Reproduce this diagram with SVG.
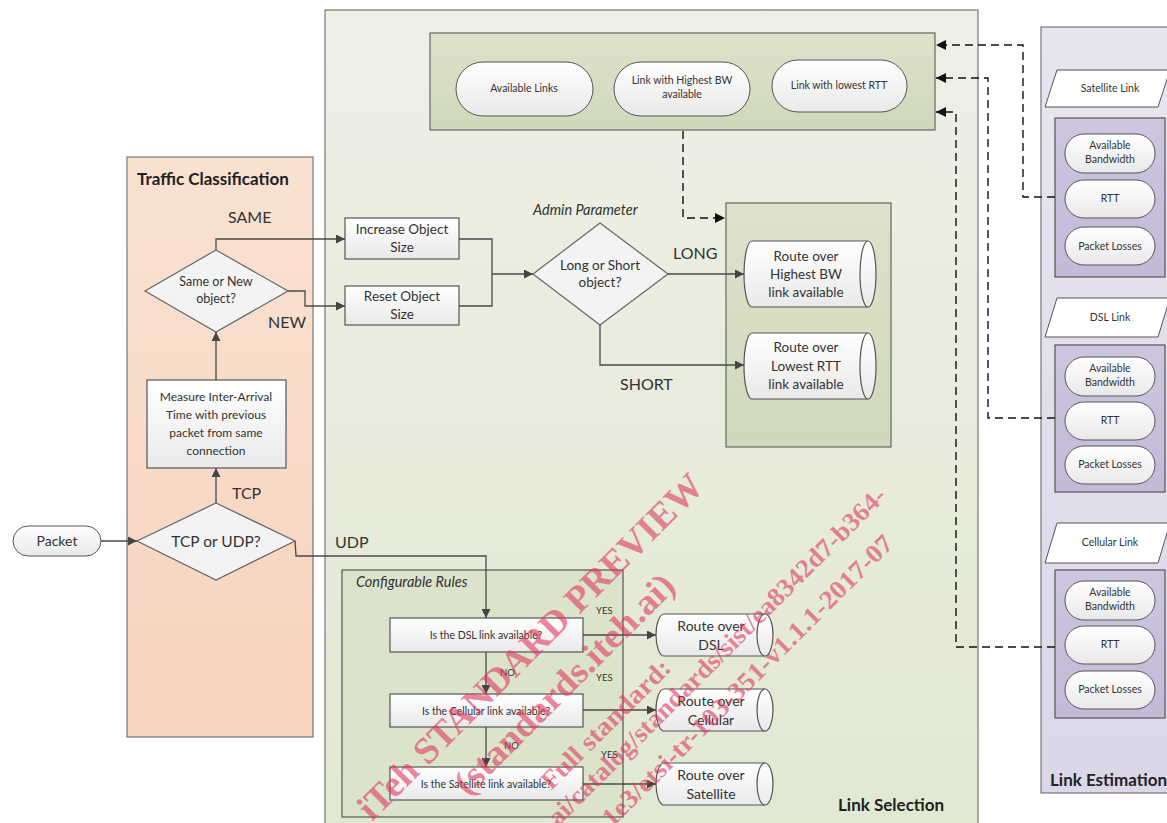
<svg xmlns="http://www.w3.org/2000/svg" width="1167" height="823" viewBox="0 0 1167 823">
<defs>
<linearGradient id="gSel" x1="0" y1="0" x2="0" y2="1"><stop offset="0" stop-color="#eef0e6"/><stop offset="1" stop-color="#e1e8d2"/></linearGradient>
<linearGradient id="gTc" x1="0" y1="0" x2="0" y2="1"><stop offset="0" stop-color="#f9e2d2"/><stop offset="1" stop-color="#f6d3bd"/></linearGradient>
<linearGradient id="gEst" x1="0" y1="0" x2="0" y2="1"><stop offset="0" stop-color="#e8e5f0"/><stop offset="1" stop-color="#dcd7e8"/></linearGradient>
<linearGradient id="gBox" x1="0" y1="0" x2="0" y2="1"><stop offset="0" stop-color="#dde3cb"/><stop offset="1" stop-color="#d0d8bb"/></linearGradient>
<linearGradient id="gGrp" x1="0" y1="0" x2="0" y2="1"><stop offset="0" stop-color="#cdc6de"/><stop offset="1" stop-color="#c2bad7"/></linearGradient>
<linearGradient id="gW" x1="0" y1="0" x2="0" y2="1"><stop offset="0" stop-color="#ffffff"/><stop offset="1" stop-color="#e9e9e9"/></linearGradient>
<marker id="ar" viewBox="0 0 10 10" refX="10" refY="5" markerWidth="9" markerHeight="9" markerUnits="userSpaceOnUse" orient="auto"><path d="M0,0 L10,5 L0,10 Z" fill="#444"/></marker>
<marker id="ak" viewBox="0 0 10 10" refX="10" refY="5" markerWidth="10" markerHeight="10" markerUnits="userSpaceOnUse" orient="auto"><path d="M0,0 L10,5 L0,10 Z" fill="#111"/></marker>
</defs>
<style>
text{font-family:Lato,"Open Sans","Liberation Sans",sans-serif;fill:#333}
.title{font-size:17px;font-weight:bold;fill:#222}
.lbl{font-size:16px;fill:#333}
.n13{font-size:13.5px;text-anchor:middle}
.n10{font-size:10.5px;text-anchor:middle}
.n9{font-size:10.5px;text-anchor:middle}
.it{font-style:italic;font-size:14.5px}
.yes{font-size:9.5px}
.pill{fill:url(#gW);stroke:#555;stroke-width:1}
.box{fill:url(#gW);stroke:#555;stroke-width:1.2}
.dia{fill:#f3f3f3;stroke:#666;stroke-width:1.2}
.cyl{fill:url(#gW);stroke:#555;stroke-width:1.2}
.ln{fill:none;stroke:#4a4a4a;stroke-width:1.3}
.dl{fill:none;stroke:#111;stroke-width:1.4;stroke-dasharray:8 5}
.wm{font-family:"Liberation Serif",serif;font-weight:bold;fill:#e0365e;fill-opacity:0.6}
</style>
<rect width="1167" height="823" fill="#ffffff"/>

<g id="panel-link-selection">
<rect x="325" y="10" width="653" height="825" fill="url(#gSel)" stroke="#777" stroke-width="1.2"/>
<text class="title" x="838" y="811">Link Selection</text>
</g>
<g id="panel-traffic-classification">
<rect x="127" y="157" width="186" height="580" fill="url(#gTc)" stroke="#777" stroke-width="1.2"/>
<text class="title" x="137" y="185">Traffic Classification</text>
</g>
<g id="panel-link-estimation">
<rect x="1041" y="27" width="140" height="766" fill="url(#gEst)" stroke="#777" stroke-width="1.2"/>
<text class="title" x="1050" y="786">Link Estimation</text>
</g>

<g id="top-box">
<rect x="430" y="33" width="505" height="97" fill="url(#gBox)" stroke="#666" stroke-width="1.2"/>
</g>
<g id="available-links"><rect class="pill" x="456" y="62" width="137" height="54" rx="27"/><text class="n10" x="524" y="92">Available Links</text></g>
<g id="highest-bw"><rect class="pill" x="614" y="62" width="136" height="54" rx="27"/><text class="n10" x="682" y="84">Link with Highest BW</text><text class="n10" x="682" y="98">available</text></g>
<g id="lowest-rtt"><rect class="pill" x="772" y="60" width="135" height="52" rx="26"/><text class="n10" x="839" y="89">Link with lowest RTT</text></g>

<g id="route-container"><rect x="726" y="203" width="165" height="244" fill="url(#gBox)" stroke="#666" stroke-width="1.2"/></g>

<g id="route-highest-bw">
<path class="cyl" d="M752,241 L868,241 A8,33 0 0 1 868,307 L752,307 A8,33 0 0 1 752,241 Z"/>
<path class="cyl" d="M868,241 A8,33 0 0 0 868,307"/>
<text class="n13" x="806" y="261">Route over</text><text class="n13" x="806" y="279">Highest BW</text><text class="n13" x="806" y="297">link available</text>
</g>
<g id="route-lowest-rtt">
<path class="cyl" d="M752,333 L868,333 A8,33 0 0 1 868,399 L752,399 A8,33 0 0 1 752,333 Z"/>
<path class="cyl" d="M868,333 A8,33 0 0 0 868,399"/>
<text class="n13" x="806" y="352">Route over</text><text class="n13" x="806" y="371">Lowest  RTT</text><text class="n13" x="806" y="389">link available</text>
</g>

<g id="increase-object"><rect class="box" x="345" y="218" width="114" height="41"/><text class="n13" x="402" y="234">Increase Object</text><text class="n13" x="402" y="252">Size</text></g>
<g id="reset-object"><rect class="box" x="345" y="286" width="114" height="39"/><text class="n13" x="402" y="301">Reset Object</text><text class="n13" x="402" y="319">Size</text></g>

<g id="long-short"><path class="dia" d="M600,223 L668,274 L600,325 L533,274 Z"/><text class="n13" x="600" y="270">Long or Short</text><text class="n13" x="600" y="287">object?</text></g>
<text class="it" x="533" y="215">Admin Parameter</text>

<g id="same-new"><path class="dia" d="M216,250 L288,291 L216,332 L145,291 Z"/><text class="n10" x="216" y="286" style="font-size:12.5px">Same or New</text><text class="n10" x="216" y="303" style="font-size:12.5px">object?</text></g>
<g id="measure"><rect class="box" x="147" y="380" width="139" height="88"/><text class="n10" x="216" y="401" style="font-size:12px">Measure Inter-Arrival</text><text class="n10" x="216" y="419" style="font-size:12px">Time with previous</text><text class="n10" x="216" y="437" style="font-size:12px">packet from same</text><text class="n10" x="216" y="455" style="font-size:12px">connection</text></g>
<g id="tcp-udp"><path class="dia" d="M216,503 L295,541 L216,580 L137,541 Z"/><text class="n13" x="216" y="547" style="font-size:15.5px">TCP or UDP?</text></g>
<g id="packet"><rect class="pill" x="13" y="526" width="88" height="30" rx="15"/><text class="n13" x="57" y="546" style="font-size:14px">Packet</text></g>

<g id="configurable-rules">
<rect x="342" y="570" width="281" height="247" fill="#dbe3cb" stroke="#555" stroke-width="1.2"/>
<text class="it" x="356" y="587">Configurable Rules</text>
</g>
<g id="dsl-q"><rect class="box" x="390" y="618" width="193" height="34"/><text class="n9" x="486" y="639">Is the DSL link available?</text></g>
<g id="cell-q"><rect class="box" x="390" y="694" width="193" height="33"/><text class="n9" x="486" y="715">Is the Cellular link available?</text></g>
<g id="sat-q"><rect class="box" x="390" y="767" width="193" height="33"/><text class="n9" x="486" y="788">Is the Satellite link available?</text></g>

<g id="route-dsl">
<path class="cyl" d="M664,614 L765,614 A8,21 0 0 1 765,656 L664,656 A8,21 0 0 1 664,614 Z"/>
<path class="cyl" d="M765,614 A8,21 0 0 0 765,656"/>
<text class="n13" x="711" y="631" style="font-size:14px">Route over</text><text class="n13" x="711" y="650" style="font-size:14px">DSL</text>
</g>
<g id="route-cellular">
<path class="cyl" d="M664,689 L765,689 A8,21 0 0 1 765,731 L664,731 A8,21 0 0 1 664,689 Z"/>
<path class="cyl" d="M765,689 A8,21 0 0 0 765,731"/>
<text class="n13" x="711" y="706" style="font-size:14px">Route over</text><text class="n13" x="711" y="725" style="font-size:14px">Cellular</text>
</g>
<g id="route-satellite">
<path class="cyl" d="M664,763 L765,763 A8,21 0 0 1 765,805 L664,805 A8,21 0 0 1 664,763 Z"/>
<path class="cyl" d="M765,763 A8,21 0 0 0 765,805"/>
<text class="n13" x="711" y="780" style="font-size:14px">Route over</text><text class="n13" x="711" y="799" style="font-size:14px">Satellite</text>
</g>

<g id="satellite-link">
<path d="M1057,70 L1170,70 L1158,107 L1045,107 Z" fill="#ffffff" stroke="#555" stroke-width="1"/>
<text class="n10" x="1110" y="92">Satellite Link</text>
<rect x="1055" y="118" width="110" height="159" fill="url(#gGrp)" stroke="#555" stroke-width="1.2"/>
<rect class="pill" x="1065" y="134" width="90" height="39" rx="19"/><text class="n10" x="1110" y="149">Available</text><text class="n10" x="1110" y="163">Bandwidth</text>
<rect class="pill" x="1065" y="180" width="90" height="38" rx="19"/><text class="n10" x="1110" y="202">RTT</text>
<rect class="pill" x="1065" y="227" width="90" height="38" rx="19"/><text class="n10" x="1110" y="250">Packet Losses</text>
</g>
<g id="dsl-link">
<path d="M1057,298 L1170,298 L1158,337 L1045,337 Z" fill="#ffffff" stroke="#555" stroke-width="1"/>
<text class="n10" x="1110" y="321">DSL Link</text>
<rect x="1055" y="345" width="110" height="147" fill="url(#gGrp)" stroke="#555" stroke-width="1.2"/>
<rect class="pill" x="1065" y="357" width="90" height="39" rx="19"/><text class="n10" x="1110" y="372">Available</text><text class="n10" x="1110" y="386">Bandwidth</text>
<rect class="pill" x="1065" y="402" width="90" height="38" rx="19"/><text class="n10" x="1110" y="424">RTT</text>
<rect class="pill" x="1065" y="446" width="90" height="38" rx="19"/><text class="n10" x="1110" y="468">Packet Losses</text>
</g>
<g id="cellular-link">
<path d="M1057,523 L1170,523 L1158,563 L1045,563 Z" fill="#ffffff" stroke="#555" stroke-width="1"/>
<text class="n10" x="1110" y="546">Cellular Link</text>
<rect x="1055" y="570" width="110" height="148" fill="url(#gGrp)" stroke="#555" stroke-width="1.2"/>
<rect class="pill" x="1065" y="581" width="90" height="39" rx="19"/><text class="n10" x="1110" y="596">Available</text><text class="n10" x="1110" y="610">Bandwidth</text>
<rect class="pill" x="1065" y="626" width="90" height="38" rx="19"/><text class="n10" x="1110" y="648">RTT</text>
<rect class="pill" x="1065" y="671" width="90" height="38" rx="19"/><text class="n10" x="1110" y="693">Packet Losses</text>
</g>

<g id="connectors">
<path class="ln" d="M101,541 L137,541" marker-end="url(#ar)"/>
<path class="ln" d="M216,503 L216,468" marker-end="url(#ar)"/>
<path class="ln" d="M216,380 L216,332" marker-end="url(#ar)"/>
<path class="ln" d="M216,250 L216,239 L345,239" marker-end="url(#ar)"/>
<path class="ln" d="M288,291 L305,291 L305,306 L345,306" marker-end="url(#ar)"/>
<path class="ln" d="M459,239 L492,239 L492,306 L459,306"/>
<path class="ln" d="M492,274 L533,274" marker-end="url(#ar)"/>
<path class="ln" d="M668,274 L744,274" marker-end="url(#ar)"/>
<path class="ln" d="M600,325 L600,365 L744,365" marker-end="url(#ar)"/>
<path class="ln" d="M295,541 L296,556 L486,556 L486,618" marker-end="url(#ar)"/>
<path class="ln" d="M486,652 L486,694" marker-end="url(#ar)"/>
<path class="ln" d="M486,727 L486,767" marker-end="url(#ar)"/>
<path class="ln" d="M583,635 L656,635" marker-end="url(#ar)"/>
<path class="ln" d="M583,710 L656,710" marker-end="url(#ar)"/>
<path class="ln" d="M583,784 L656,784" marker-end="url(#ar)"/>
<path class="dl" d="M683,131 L683,218 L725,218" marker-end="url(#ak)"/>
<path class="dl" d="M1055,197 L1023,197 L1023,45 L936,45" marker-end="url(#ak)"/>
<path class="dl" d="M1055,418 L988,418 L988,78 L936,78" marker-end="url(#ak)"/>
<path class="dl" d="M1055,647 L956,647 L956,112 L936,112" marker-end="url(#ak)"/>
</g>

<g id="labels">
<text class="lbl" x="228" y="223">SAME</text>
<text class="lbl" x="268" y="328">NEW</text>
<text class="lbl" x="232" y="499">TCP</text>
<text class="lbl" x="335" y="548">UDP</text>
<text class="lbl" x="673" y="259">LONG</text>
<text class="lbl" x="620" y="390">SHORT</text>
<text class="yes" x="596" y="614">YES</text>
<text class="yes" x="596" y="681">YES</text>
<text class="yes" x="601" y="758">YES</text>
<text class="yes" x="500" y="676">NO</text>
<text class="yes" x="504" y="749">NO</text>
</g>

<g id="watermark">
<text class="wm" x="372" y="822" font-size="37" textLength="472" lengthAdjust="spacingAndGlyphs" transform="rotate(-45 372 822)">iTeh STANDARD PREVIEW</text>
<text class="wm" x="468" y="797" font-size="36" textLength="296" lengthAdjust="spacingAndGlyphs" transform="rotate(-45 468 797)">(standards.iteh.ai)</text>
<text class="wm" x="551" y="791" font-size="26" textLength="172" lengthAdjust="spacingAndGlyphs" transform="rotate(-45 551 791)">Full standard:</text>
<text class="wm" x="558" y="827" font-size="26" textLength="466" lengthAdjust="spacingAndGlyphs" transform="rotate(-45 558 827)">ai/catalog/standards/sist/ea8342d7-b364-</text>
<text class="wm" x="612" y="828" font-size="26" textLength="400" lengthAdjust="spacingAndGlyphs" transform="rotate(-45 612 828)">1e3/etsi-tr-103-351-v1.1.1-2017-07</text>
</g>
</svg>
